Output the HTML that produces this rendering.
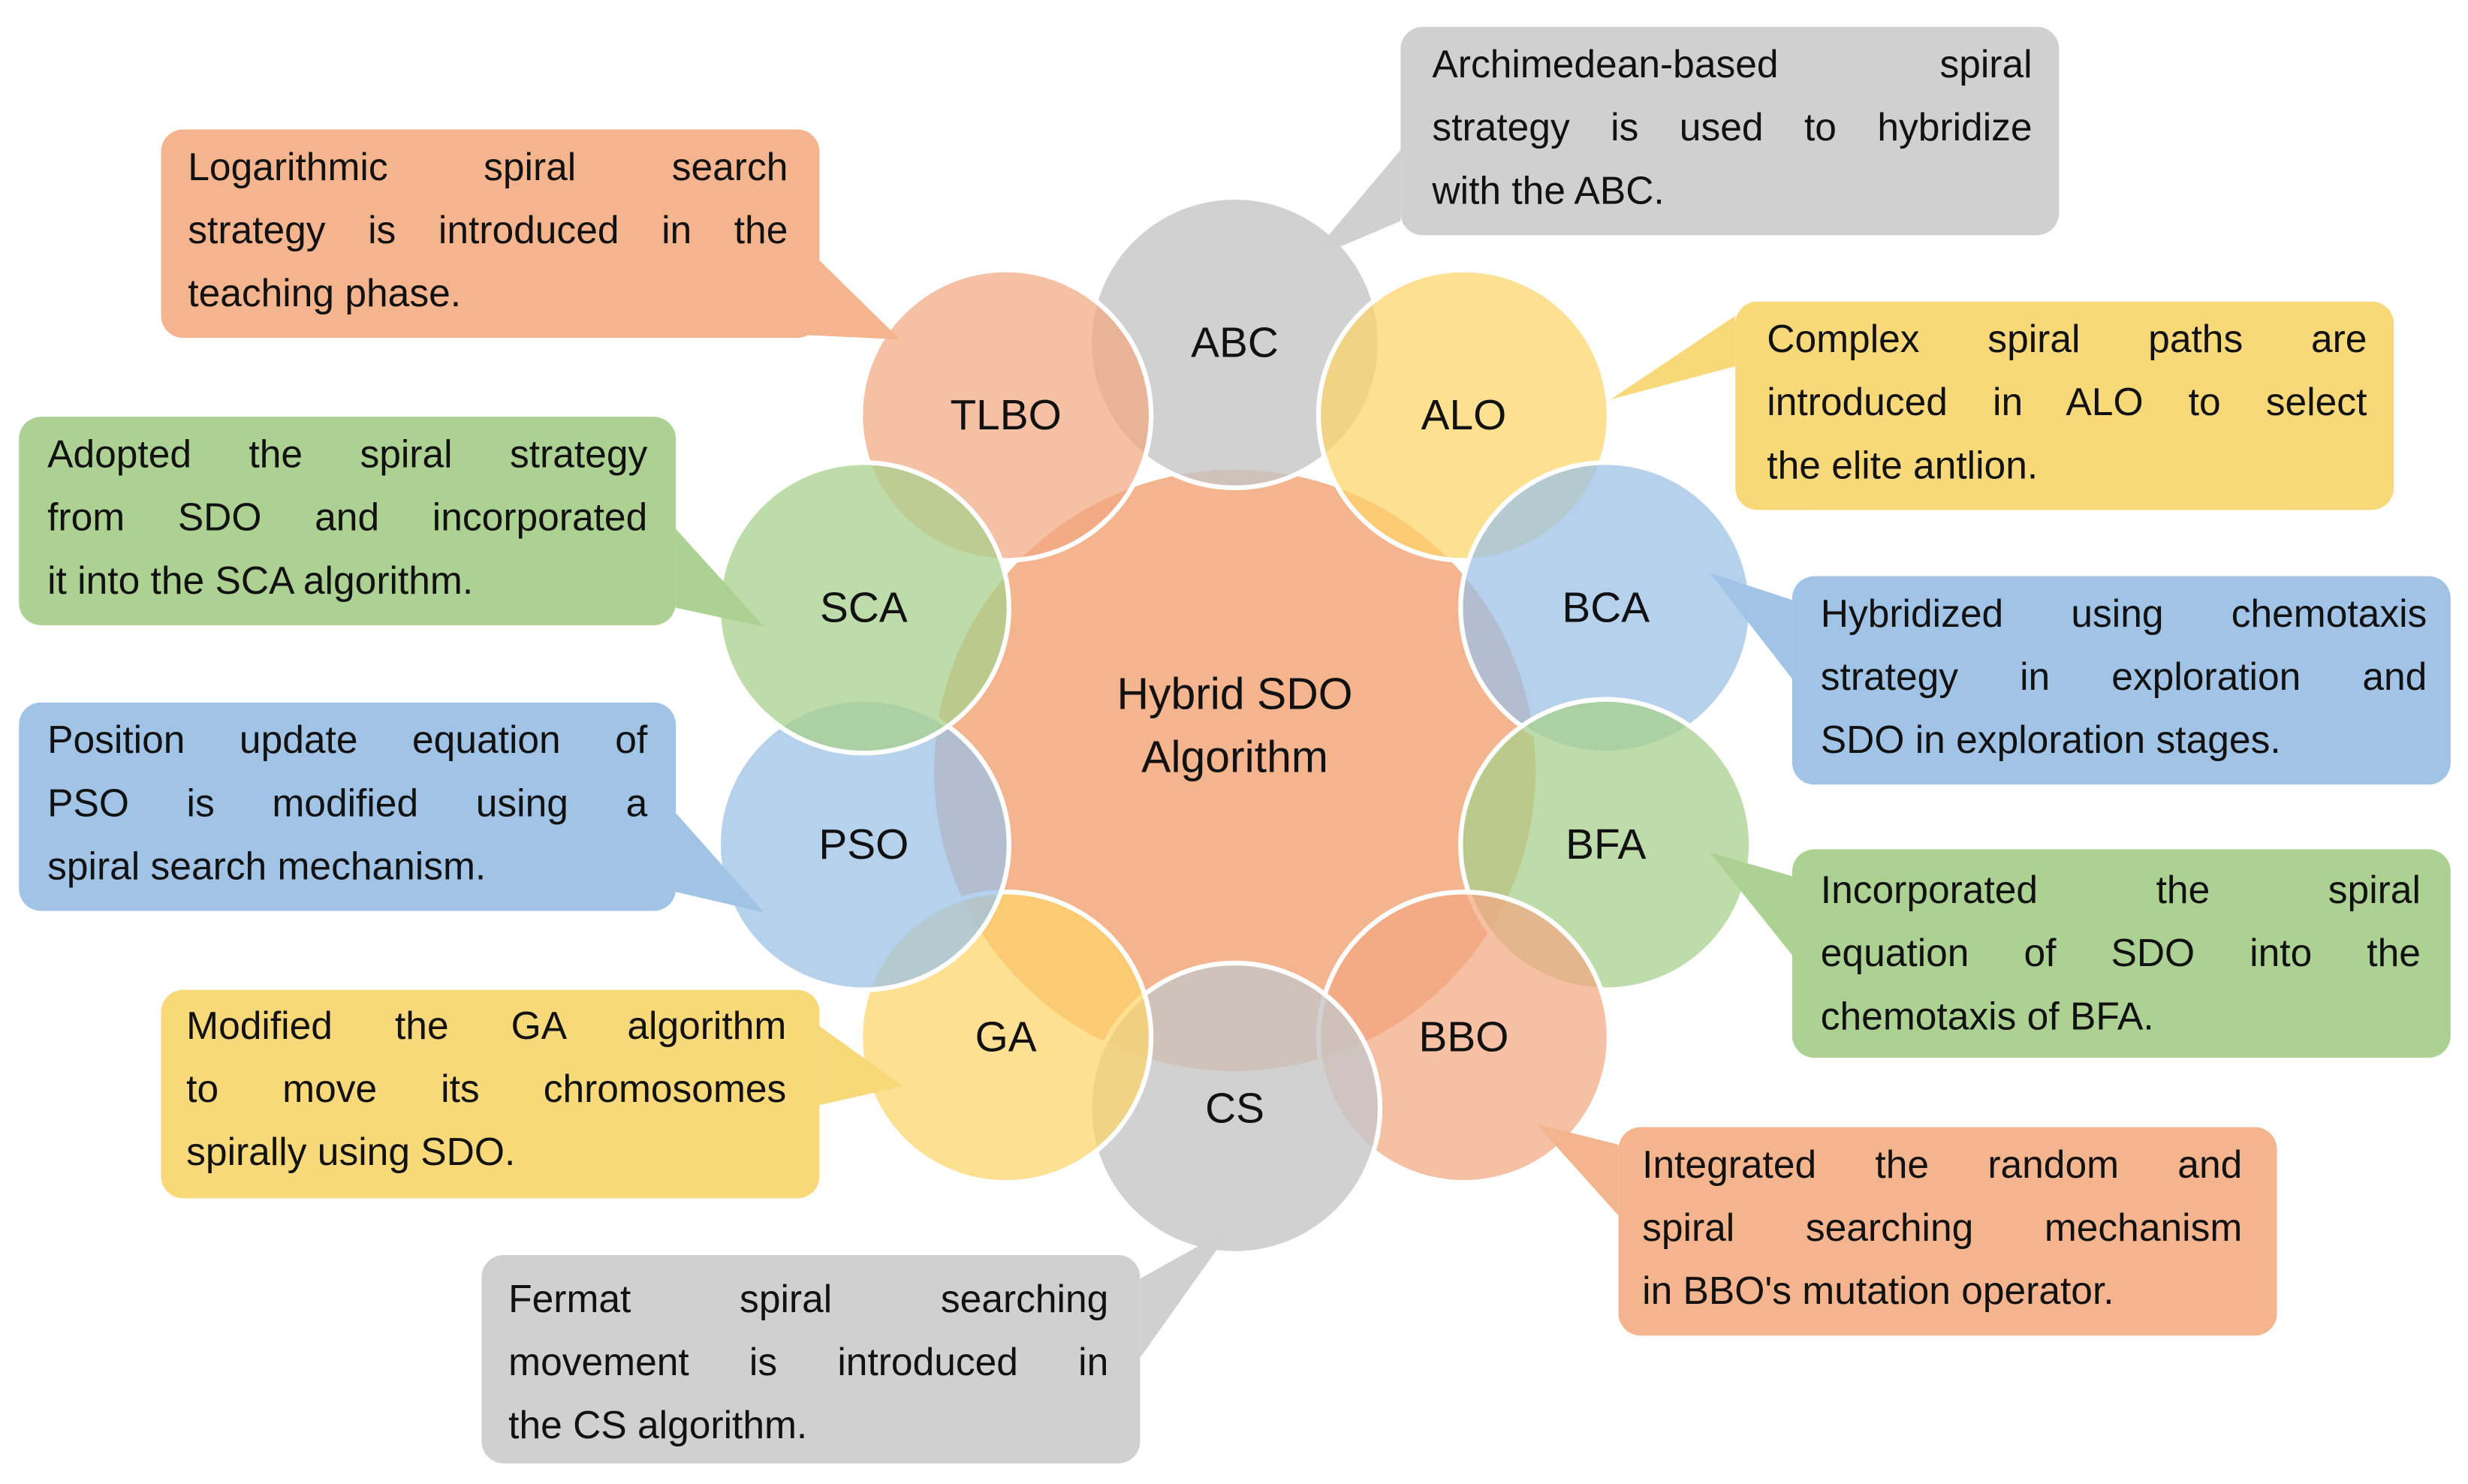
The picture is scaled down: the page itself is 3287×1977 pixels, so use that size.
<!DOCTYPE html>
<html><head><meta charset="utf-8"><style>
html,body{margin:0;padding:0;background:#fff;}
#wrap{position:relative;width:3287px;height:1977px;overflow:hidden;}
#s{position:absolute;left:0;top:0;width:1563px;height:940px;transform:scale(2.10301,2.10319);transform-origin:0 0;font-family:"Liberation Sans",sans-serif;}
.t{position:absolute;font-size:24.5px;line-height:40px;color:#111;}
.t div{text-align:justify;text-align-last:justify;white-space:nowrap;}
.t div.l{text-align-last:left;}
.c{position:absolute;font-size:27px;color:#111;text-align:center;width:120px;margin-left:-60px;line-height:30px;margin-top:-15px;}
</style></head><body><div id="wrap"><div id="s">
<svg width="1563" height="940" style="position:absolute;left:0;top:0">
<g stroke="#fff" stroke-width="3">
<circle cx="782" cy="488" r="192" fill="#f4b48e"/>
<circle cx="782" cy="217" r="92" fill="#c6c6c6" fill-opacity="0.8"/>
<circle cx="637" cy="263" r="92" fill="#f3a882" fill-opacity="0.72"/>
<circle cx="927" cy="263" r="92" fill="#fdd46a" fill-opacity="0.72"/>
<circle cx="1017" cy="385" r="92" fill="#9cc2e6" fill-opacity="0.75"/>
<circle cx="1017" cy="535" r="92" fill="#a8d08c" fill-opacity="0.75"/>
<circle cx="927" cy="657" r="92" fill="#f3a882" fill-opacity="0.72"/>
<circle cx="782" cy="702" r="92" fill="#c6c6c6" fill-opacity="0.8"/>
<circle cx="637" cy="657" r="92" fill="#fdd46a" fill-opacity="0.72"/>
<circle cx="547" cy="535" r="92" fill="#9cc2e6" fill-opacity="0.75"/>
<circle cx="547" cy="385" r="92" fill="#a8d08c" fill-opacity="0.75"/>
</g>
<!-- callouts -->
<g>
<rect x="102" y="82" width="417" height="132" rx="14" fill="#f4b48e"/>
<polygon points="505,212 519,165 570,215" fill="#f4b48e"/>
<rect x="887" y="17" width="417" height="132" rx="14" fill="#d0d0d0"/>
<polygon points="887,95 887,140 828,165" fill="#d0d0d0"/>
<rect x="1099" y="191" width="417" height="132" rx="14" fill="#f7d97a"/>
<polygon points="1099,200 1099,232 1020,253" fill="#f7d97a"/>
<rect x="12" y="264" width="416" height="132" rx="14" fill="#acd193"/>
<polygon points="428,335 428,385 484,397" fill="#acd193"/>
<rect x="1135" y="365" width="417" height="132" rx="14" fill="#a0c3e6"/>
<polygon points="1135,380 1135,430 1083,363" fill="#a0c3e6"/>
<rect x="12" y="445" width="416" height="132" rx="14" fill="#a0c3e6"/>
<polygon points="428,515 428,565 484,578" fill="#a0c3e6"/>
<rect x="1135" y="538" width="417" height="132" rx="14" fill="#acd193"/>
<polygon points="1135,555 1135,605 1083,540" fill="#acd193"/>
<rect x="102" y="627" width="417" height="132" rx="14" fill="#f7d97a"/>
<polygon points="519,650 519,700 572,688" fill="#f7d97a"/>
<rect x="1025" y="714" width="417" height="132" rx="14" fill="#f4b48e"/>
<polygon points="1025,725 1025,770 973,712" fill="#f4b48e"/>
<rect x="305" y="795" width="417" height="132" rx="14" fill="#d0d0d0"/>
<polygon points="722,810 722,860 781,777" fill="#d0d0d0"/>
</g>
</svg>
<div class="c" style="left:782px;top:217px">ABC</div>
<div class="c" style="left:637px;top:263px">TLBO</div>
<div class="c" style="left:927px;top:263px">ALO</div>
<div class="c" style="left:1017px;top:385px">BCA</div>
<div class="c" style="left:1017px;top:535px">BFA</div>
<div class="c" style="left:927px;top:657px">BBO</div>
<div class="c" style="left:782px;top:702px">CS</div>
<div class="c" style="left:637px;top:657px">GA</div>
<div class="c" style="left:547px;top:535px">PSO</div>
<div class="c" style="left:547px;top:385px">SCA</div>
<div class="c" style="left:782px;top:440px;width:220px;margin-left:-110px;font-size:28px;line-height:40px;margin-top:-20px">Hybrid SDO<br>Algorithm</div>

<div class="t" style="left:119px;top:87px;width:380px"><div>Logarithmic spiral search</div><div>strategy is introduced in the</div><div class="l">teaching phase.</div></div>
<div class="t" style="left:907px;top:22px;width:380px"><div>Archimedean-based spiral</div><div>strategy is used to hybridize</div><div class="l">with the ABC.</div></div>
<div class="t" style="left:1119px;top:196px;width:380px"><div>Complex spiral paths are</div><div>introduced in ALO to select</div><div class="l">the elite antlion.</div></div>
<div class="t" style="left:30px;top:269px;width:380px"><div>Adopted the spiral strategy</div><div>from SDO and incorporated</div><div class="l">it into the SCA algorithm.</div></div>
<div class="t" style="left:1153px;top:370px;width:384px"><div>Hybridized using chemotaxis</div><div>strategy in exploration and</div><div class="l">SDO in exploration stages.</div></div>
<div class="t" style="left:30px;top:450px;width:380px"><div>Position update equation of</div><div>PSO is modified using a</div><div class="l">spiral search mechanism.</div></div>
<div class="t" style="left:1153px;top:545px;width:380px"><div>Incorporated the spiral</div><div>equation of SDO into the</div><div class="l">chemotaxis of BFA.</div></div>
<div class="t" style="left:118px;top:631px;width:380px"><div>Modified the GA algorithm</div><div>to move its chromosomes</div><div class="l">spirally using SDO.</div></div>
<div class="t" style="left:1040px;top:719px;width:380px"><div>Integrated the random and</div><div>spiral searching mechanism</div><div class="l">in BBO's mutation operator.</div></div>
<div class="t" style="left:322px;top:804px;width:380px"><div>Fermat spiral searching</div><div>movement is introduced in</div><div class="l">the CS algorithm.</div></div>
</div></div></body></html>
